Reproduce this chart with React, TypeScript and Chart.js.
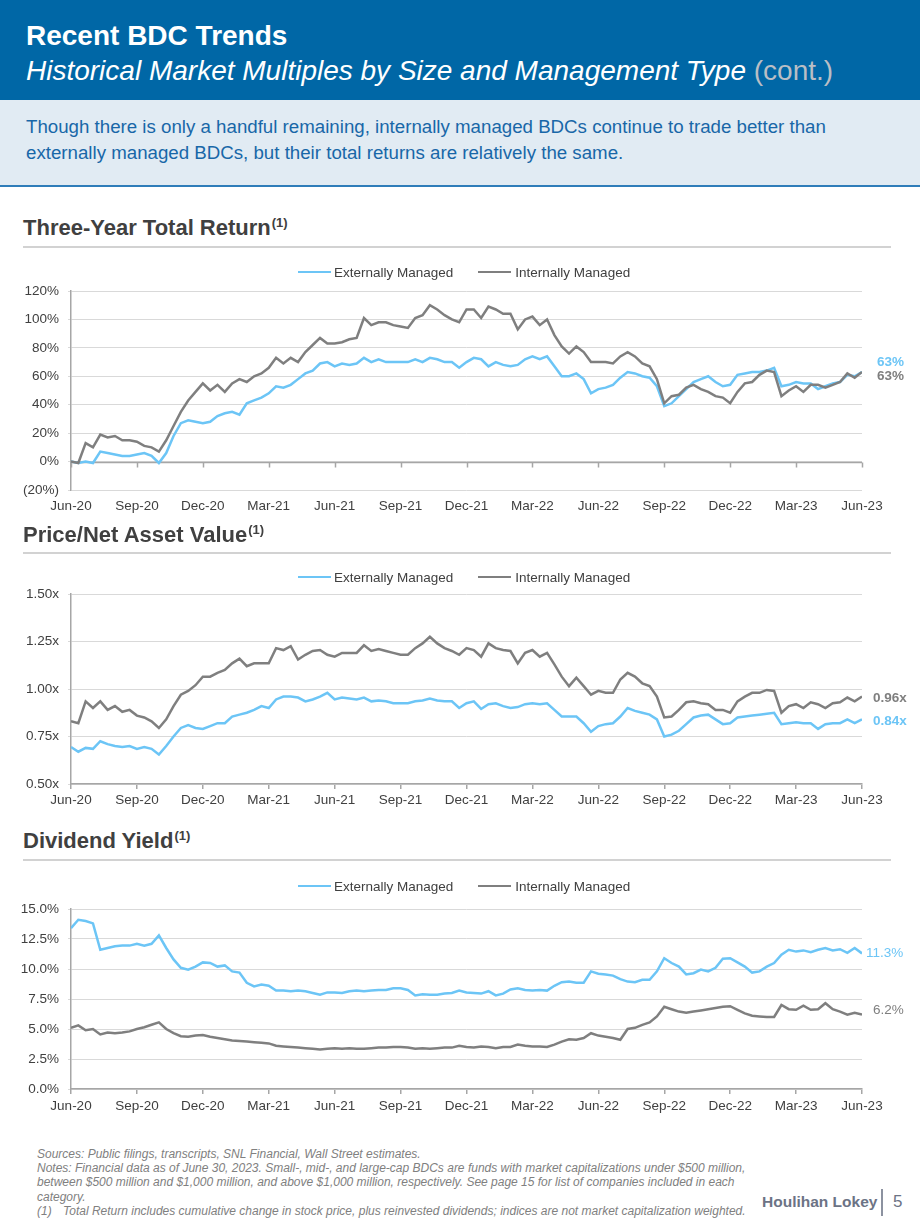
import { useEffect, useRef } from "react";
import { Chart, registerables } from "chart.js";

Chart.register(...registerables);

// Quarter-end axis labels; series are sampled three times a month (index 0 = Jun-20, 9 points per quarter)
const quarterLabels = [
  "Jun-20", "Sep-20", "Dec-20", "Mar-21", "Jun-21", "Sep-21", "Dec-21",
  "Mar-22", "Jun-22", "Sep-22", "Dec-22", "Mar-23", "Jun-23",
];

// Three-year total return (%)
const totalReturnExternal = [
  0, -1, 0, -1, 7, 6, 5, 4, 4, 5, 6, 4, -1,
  6, 18, 27, 29, 28, 27, 28, 32, 34, 35, 33,
  41, 43, 45, 48, 53, 52, 54, 58,
  62, 64, 69, 70, 67, 69, 68, 69, 73, 70, 72, 70, 70, 70, 70, 72, 70, 73, 72, 70, 70, 66,
  70, 73, 72, 67, 70, 68, 67, 68, 72, 74,
  72, 74, 67, 60, 60, 62, 58, 48, 51, 52,
  54, 59, 63, 62, 60, 59, 53, 39, 41, 46,
  51, 56, 58, 60, 56, 53, 54, 61, 62, 63,
  63, 64, 66, 53, 54, 56, 55, 55, 51, 53,
  55, 56, 61, 60, 63,
];
const totalReturnInternal = [
  0, -1, 13, 10, 19, 17, 18, 15, 15, 14, 11, 10, 7,
  15, 25, 35, 43, 49, 55, 50, 54, 49, 55, 58,
  56, 60, 62, 66, 73, 69, 73, 70,
  77, 82, 87, 83, 83, 84, 86, 87, 101, 96, 98, 98, 96, 95, 94, 101, 103, 110, 107, 103, 100, 98,
  107, 107, 101, 109, 107, 104, 104, 93, 100, 102,
  96, 100, 89, 81, 76, 81, 77, 70, 70, 70,
  69, 74, 77, 74, 69, 67, 58, 41, 46, 47,
  52, 54, 51, 49, 46, 45, 41, 49, 55, 56,
  61, 64, 63, 46, 50, 53, 49, 54, 54, 52,
  54, 56, 62, 59, 63,
];

// Price / net asset value (x)
const priceNavExternal = [
  0.695, 0.67, 0.69, 0.685, 0.725, 0.71, 0.7, 0.695, 0.7, 0.685, 0.695, 0.685, 0.655,
  0.7, 0.75, 0.795, 0.81, 0.795, 0.79, 0.805, 0.82, 0.82, 0.855, 0.865,
  0.875, 0.89, 0.91, 0.9, 0.945, 0.96, 0.96, 0.955,
  0.935, 0.945, 0.96, 0.98, 0.945, 0.955, 0.95, 0.945, 0.955, 0.935, 0.94, 0.935, 0.925, 0.925, 0.925, 0.935, 0.94, 0.95, 0.94, 0.935, 0.935, 0.9,
  0.925, 0.935, 0.895, 0.92, 0.925, 0.91, 0.9, 0.905, 0.92, 0.925,
  0.92, 0.925, 0.89, 0.855, 0.855, 0.855, 0.82, 0.775, 0.805, 0.815,
  0.82, 0.855, 0.9, 0.885, 0.875, 0.865, 0.84, 0.75, 0.76, 0.78,
  0.815, 0.85, 0.86, 0.865, 0.84, 0.815, 0.82, 0.85, 0.855, 0.86,
  0.865, 0.87, 0.875, 0.815, 0.82, 0.825, 0.82, 0.82, 0.79, 0.815,
  0.82, 0.82, 0.84, 0.82, 0.84,
];
const priceNavInternal = [
  0.83, 0.82, 0.935, 0.9, 0.935, 0.89, 0.91, 0.88, 0.89, 0.86, 0.85, 0.83, 0.795,
  0.84, 0.91, 0.97, 0.99, 1.02, 1.065, 1.065, 1.085, 1.1, 1.135, 1.16,
  1.12, 1.135, 1.135, 1.135, 1.215, 1.205, 1.225, 1.155,
  1.18, 1.2, 1.205, 1.18, 1.17, 1.19, 1.19, 1.19, 1.23, 1.2, 1.21, 1.2, 1.19, 1.18, 1.18, 1.215, 1.24, 1.275, 1.24, 1.215, 1.2, 1.18,
  1.215, 1.205, 1.17, 1.24, 1.215, 1.205, 1.2, 1.135, 1.19, 1.205,
  1.17, 1.19, 1.13, 1.065, 1.015, 1.06, 1.015, 0.97, 0.99, 0.98,
  0.98, 1.05, 1.085, 1.065, 1.03, 1.015, 0.96, 0.85, 0.855, 0.89,
  0.93, 0.935, 0.925, 0.92, 0.89, 0.89, 0.875, 0.935, 0.96, 0.98,
  0.98, 0.995, 0.99, 0.875, 0.91, 0.92, 0.9, 0.93, 0.92, 0.9,
  0.925, 0.93, 0.955, 0.935, 0.96,
];

// Dividend yield (%)
const dividendYieldExternal = [
  13.4, 14.1, 14.0, 13.8, 11.6, 11.75, 11.9, 11.95, 11.95, 12.1, 11.95, 12.1, 12.8,
  11.75, 10.8, 10.1, 9.95, 10.2, 10.55, 10.5, 10.2, 10.3, 9.8, 9.7,
  8.85, 8.55, 8.7, 8.6, 8.2, 8.2, 8.15, 8.2,
  8.15, 8.0, 7.85, 8.05, 8.05, 8.0, 8.15, 8.2, 8.15, 8.2, 8.25, 8.25, 8.4, 8.4, 8.25, 7.8, 7.9, 7.85, 7.85, 7.95, 8.0, 8.2,
  8.05, 8.0, 7.95, 8.15, 7.8, 7.95, 8.3, 8.4, 8.25, 8.2,
  8.25, 8.2, 8.6, 8.9, 8.95, 8.85, 8.85, 9.8, 9.6, 9.55,
  9.45, 9.15, 8.95, 8.9, 9.1, 9.1, 9.8, 10.9, 10.5, 10.2,
  9.55, 9.65, 9.95, 9.8, 10.1, 10.85, 10.9, 10.55, 10.2, 9.7,
  9.8, 10.2, 10.5, 11.2, 11.6, 11.45, 11.55, 11.4, 11.6, 11.75,
  11.55, 11.65, 11.35, 11.75, 11.3,
];
const dividendYieldInternal = [
  5.1, 5.3, 4.9, 5.0, 4.55, 4.7, 4.65, 4.7, 4.8, 5.0, 5.15, 5.35, 5.55,
  5.0, 4.65, 4.4, 4.35, 4.45, 4.5, 4.35, 4.25, 4.15, 4.05, 4.0,
  3.95, 3.9, 3.85, 3.8, 3.6, 3.55, 3.5, 3.45,
  3.4, 3.35, 3.3, 3.35, 3.4, 3.35, 3.4, 3.35, 3.35, 3.4, 3.45, 3.45, 3.5, 3.5, 3.45, 3.35, 3.4, 3.35, 3.4, 3.45, 3.45, 3.6,
  3.5, 3.45, 3.55, 3.5, 3.4, 3.5, 3.5, 3.7, 3.6, 3.55,
  3.55, 3.5, 3.7, 3.95, 4.15, 4.1, 4.25, 4.65, 4.45, 4.35,
  4.25, 4.1, 5.0, 5.1, 5.35, 5.55, 6.05, 6.85, 6.65, 6.45,
  6.35, 6.45, 6.55, 6.65, 6.75, 6.85, 6.9, 6.6, 6.3, 6.1,
  6.05, 6.0, 6.0, 7.0, 6.65, 6.6, 6.95, 6.6, 6.65, 7.15,
  6.65, 6.45, 6.2, 6.35, 6.2,
];

const FONT = '"Liberation Sans", Arial, Helvetica, sans-serif';
const BLUE = "#6CC5F6";
const GRAY = "#7F7F7F";
const TEXT = "#404040";
const GRID = "#D9D9D9";
const AXIS = "#A6A6A6";
const CANVAS_W = 920;
const PLOT_LEFT = 71;
const PLOT_RIGHT = 862;
// room above the plot area for the top y tick label
const TOP_ROOM = 18;

type Offset = { dx: number; dy: number };

type TrendProps = {
  plotTop: number;
  plotBottom: number;
  canvasBottom: number;
  yMin: number;
  yMax: number;
  yStep: number;
  yFormat: (v: number) => string;
  endFormat: (v: number) => string;
  external: number[];
  internal: number[];
  externalOffset: Offset;
  internalOffset: Offset;
  zeroAxis?: boolean;
  labelPad: number;
  endBold?: boolean;
};

function TrendChart(p: TrendProps) {
  const ref = useRef<HTMLCanvasElement | null>(null);
  const top = p.plotTop - TOP_ROOM;
  const height = p.canvasBottom - top;

  useEffect(() => {
    if (!ref.current) return;
    const xAxisHeight = p.canvasBottom - p.plotBottom;

    // value labels just right of each series' last point
    const endLabels = {
      id: "endLabels",
      afterDatasetsDraw(chart: any) {
        const { ctx, chartArea, scales } = chart;
        const offsets = [p.externalOffset, p.internalOffset];
        chart.data.datasets.forEach((ds: any, i: number) => {
          const vals = ds.data as number[];
          const v = vals[vals.length - 1];
          const off = offsets[i];
          ctx.save();
          ctx.font = `${p.endBold ? "bold " : ""}13.5px ${FONT}`;
          ctx.fillStyle = ds.borderColor;
          ctx.textAlign = "left";
          ctx.textBaseline = "middle";
          ctx.fillText(p.endFormat(v), chartArea.right + off.dx, scales.y.getPixelForValue(v) + off.dy);
          ctx.restore();
        });
      },
    };

    // horizontal axis drawn across the zero line, with quarter tick marks
    const zeroAxis = {
      id: "zeroAxis",
      beforeDatasetsDraw(chart: any) {
        if (!p.zeroAxis) return;
        const { ctx, chartArea, scales } = chart;
        const y0 = Math.round(scales.y.getPixelForValue(0)) + 0.5;
        ctx.save();
        ctx.strokeStyle = AXIS;
        ctx.lineWidth = 1.5;
        ctx.beginPath();
        ctx.moveTo(chartArea.left, y0);
        ctx.lineTo(chartArea.right, y0);
        scales.x.ticks.forEach((t: any) => {
          const x = Math.round(scales.x.getPixelForValue(t.value)) + 0.5;
          ctx.moveTo(x, y0);
          ctx.lineTo(x, y0 + 5);
        });
        ctx.stroke();
        ctx.restore();
      },
    };

    const chart = new Chart(ref.current, {
      type: "line",
      data: {
        labels: p.external.map((_, i) => i),
        datasets: [
          {
            label: "Externally Managed",
            data: p.external,
            borderColor: BLUE,
            backgroundColor: BLUE,
            borderWidth: 2.5,
            pointRadius: 0,
            tension: 0,
            order: 1,
          },
          {
            label: "Internally Managed",
            data: p.internal,
            borderColor: GRAY,
            backgroundColor: GRAY,
            borderWidth: 2.5,
            pointRadius: 0,
            tension: 0,
            order: 0,
          },
        ],
      },
      options: {
        responsive: false,
        animation: false,
        events: [],
        layout: {
          padding: { left: 0, right: CANVAS_W - PLOT_RIGHT, top: TOP_ROOM, bottom: 0 },
        },
        plugins: { legend: { display: false }, tooltip: { enabled: false } },
        scales: {
          x: {
            type: "linear",
            min: 0,
            max: (quarterLabels.length - 1) * 9,
            afterFit: (s: any) => {
              s.height = xAxisHeight;
            },
            grid: p.zeroAxis
              ? { display: false, drawTicks: false }
              : { drawOnChartArea: false, drawTicks: true, tickLength: 5, color: AXIS, lineWidth: 1.5 },
            border: p.zeroAxis ? { display: false } : { display: true, color: AXIS, width: 1.5 },
            ticks: {
              stepSize: 9,
              autoSkip: false,
              maxRotation: 0,
              padding: p.labelPad,
              color: TEXT,
              font: { family: FONT, size: 13.5 },
              callback: (v: any) => quarterLabels[Math.round(Number(v) / 9)] ?? "",
            },
          },
          y: {
            min: p.yMin,
            max: p.yMax,
            afterFit: (s: any) => {
              s.width = PLOT_LEFT;
            },
            grid: { color: GRID, lineWidth: 1, drawTicks: true, tickLength: 3 },
            border: { display: true, color: AXIS, width: 1.5 },
            ticks: {
              stepSize: p.yStep,
              padding: 9,
              color: TEXT,
              font: { family: FONT, size: 13.5 },
              callback: (v: any) => p.yFormat(Number(v)),
            },
          },
        },
      },
      plugins: [zeroAxis, endLabels],
    } as any);
    return () => chart.destroy();
  }, []);

  return (
    <canvas
      ref={ref}
      width={CANVAS_W}
      height={height}
      style={{ position: "absolute", left: 0, top, width: CANVAS_W, height, display: "block" }}
    />
  );
}

function SectionTitle({ text, top, ruleTop }: { text: string; top: number; ruleTop: number }) {
  return (
    <>
      <div
        style={{
          position: "absolute",
          left: 23,
          top,
          font: `bold 22px/22px ${FONT}`,
          color: TEXT,
          whiteSpace: "nowrap",
        }}
      >
        {text}
        <span style={{ fontSize: 13, position: "relative", top: -8, marginLeft: 1 }}>(1)</span>
      </div>
      <div style={{ position: "absolute", left: 23, top: ruleTop - 1, width: 868, height: 2, background: "#D2D2D2" }} />
    </>
  );
}

function Legend({ center }: { center: number }) {
  return (
    <div
      style={{
        position: "absolute",
        left: 298,
        top: center - 9,
        height: 18,
        display: "flex",
        alignItems: "center",
        font: `13.5px ${FONT}`,
        color: TEXT,
        whiteSpace: "nowrap",
      }}
    >
      <span style={{ display: "inline-block", width: 33, height: 2.5, background: BLUE, marginRight: 3 }} />
      <span>Externally Managed</span>
      <span style={{ display: "inline-block", width: 33, height: 2.5, background: GRAY, marginLeft: 25, marginRight: 4 }} />
      <span>Internally Managed</span>
    </div>
  );
}

export default function App() {
  const pct = (v: number) => (v < 0 ? `(${Math.abs(v)}%)` : `${v}%`);
  return (
    <div
      style={{
        position: "absolute",
        left: 0,
        top: 0,
        width: 920,
        height: 1227,
        background: "#FFFFFF",
        overflow: "hidden",
        fontFamily: FONT,
      }}
    >
      <div style={{ position: "absolute", left: 0, top: 0, width: 920, height: 100, background: "#0067A6" }}>
        <div style={{ position: "absolute", left: 26, top: 22, font: `bold 28px/28px ${FONT}`, color: "#FFFFFF", whiteSpace: "nowrap" }}>
          Recent BDC Trends
        </div>
        <div style={{ position: "absolute", left: 26, top: 57, font: `italic 28px/28px ${FONT}`, color: "#FFFFFF", whiteSpace: "nowrap" }}>
          Historical Market Multiples by Size and Management Type{" "}
          <span style={{ color: "#B9BEC5", fontStyle: "normal" }}>(cont.)</span>
        </div>
      </div>

      <div
        style={{
          position: "absolute",
          left: 0,
          top: 100,
          width: 920,
          height: 85,
          background: "#E1EBF3",
          borderBottom: "2px solid #2F7DB9",
        }}
      >
        <div style={{ position: "absolute", left: 26, top: 14, font: `18.7px/26px ${FONT}`, color: "#1867A8", whiteSpace: "nowrap" }}>
          Though there is only a handful remaining, internally managed BDCs continue to trade better than
          <br />
          externally managed BDCs, but their total returns are relatively the same.
        </div>
      </div>

      <SectionTitle text="Three-Year Total Return" top={217} ruleTop={247} />
      <TrendChart
        plotTop={291}
        plotBottom={490}
        canvasBottom={525}
        yMin={-20}
        yMax={120}
        yStep={20}
        yFormat={pct}
        endFormat={(v) => `${Math.round(v)}%`}
        external={totalReturnExternal}
        internal={totalReturnInternal}
        externalOffset={{ dx: 15, dy: -10 }}
        internalOffset={{ dx: 15, dy: 4 }}
        zeroAxis
        labelPad={8}
        endBold
      />
      <Legend center={272} />

      <SectionTitle text="Price/Net Asset Value" top={524} ruleTop={553} />
      <TrendChart
        plotTop={594}
        plotBottom={784}
        canvasBottom={820}
        yMin={0.5}
        yMax={1.5}
        yStep={0.25}
        yFormat={(v) => `${v.toFixed(2)}x`}
        endFormat={(v) => `${v.toFixed(2)}x`}
        external={priceNavExternal}
        internal={priceNavInternal}
        externalOffset={{ dx: 11, dy: 2 }}
        internalOffset={{ dx: 11, dy: 2 }}
        labelPad={3}
        endBold
      />
      <Legend center={577} />

      <SectionTitle text="Dividend Yield" top={830} ruleTop={860} />
      <TrendChart
        plotTop={909}
        plotBottom={1089}
        canvasBottom={1125}
        yMin={0}
        yMax={15}
        yStep={2.5}
        yFormat={(v) => `${v.toFixed(1)}%`}
        endFormat={(v) => `${v.toFixed(1)}%`}
        external={dividendYieldExternal}
        internal={dividendYieldInternal}
        externalOffset={{ dx: 4, dy: 0 }}
        internalOffset={{ dx: 11, dy: -4 }}
        labelPad={4}
      />
      <Legend center={886} />

      <div
        style={{
          position: "absolute",
          left: 37,
          top: 1147,
          font: `italic 12px/14.2px ${FONT}`,
          color: "#808080",
          whiteSpace: "nowrap",
        }}
      >
        <div>Sources: Public filings, transcripts, SNL Financial, Wall Street estimates.</div>
        <div>
          Notes: Financial data as of June 30, 2023. Small-, mid-, and large-cap BDCs are funds with market capitalizations under $500 million,
        </div>
        <div>
          between $500 million and $1,000 million, and above $1,000 million, respectively. See page 15 for list of companies included in each
        </div>
        <div>category.</div>
        <div>
          <span style={{ display: "inline-block", width: 26 }}>(1)</span>
          Total Return includes cumulative change in stock price, plus reinvested dividends; indices are not market capitalization weighted.
        </div>
      </div>

      <div
        style={{
          position: "absolute",
          left: 762,
          top: 1193,
          font: `bold 15.5px/18px ${FONT}`,
          color: "#6C7385",
          whiteSpace: "nowrap",
        }}
      >
        Houlihan Lokey
      </div>
      <div style={{ position: "absolute", left: 881, top: 1189, width: 1.5, height: 27, background: "#8C92A0" }} />
      <div style={{ position: "absolute", left: 893, top: 1192, font: `17px/20px ${FONT}`, color: "#6C7385" }}>5</div>
    </div>
  );
}
